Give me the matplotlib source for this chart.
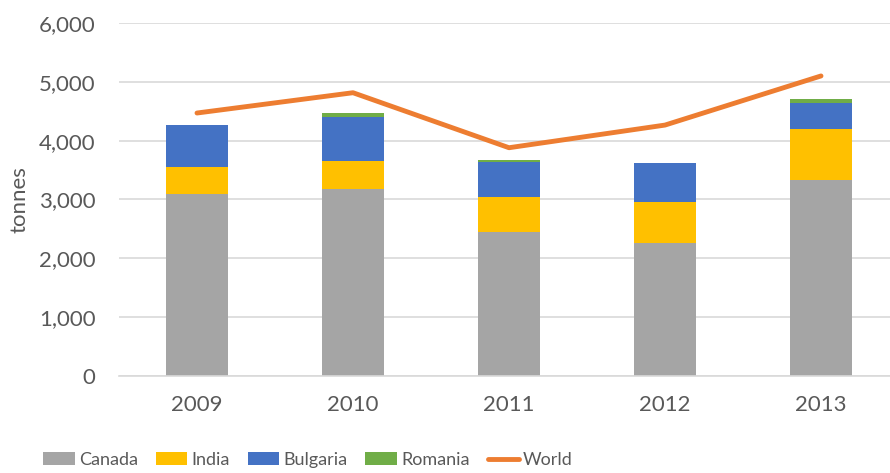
import matplotlib

matplotlib.use("Agg")

import matplotlib.pyplot as plt
import numpy as np
from matplotlib.ticker import FuncFormatter

years = ["2009", "2010", "2011", "2012", "2013"]
canada = [3090, 3170, 2450, 2260, 3325]
india = [460, 480, 600, 690, 875]
bulgaria = [710, 760, 580, 670, 445]
romania = [0, 55, 45, 0, 65]
world = [4470, 4815, 3880, 4265, 5100]

plt.rcParams["font.family"] = ["Lato", "DejaVu Sans"]
text_color = "#595959"

fig = plt.figure(figsize=(8.9, 4.73), dpi=100)
ax = fig.add_axes([119 / 890, (473 - 376) / 473, 780 / 890, 353 / 473])

x = np.arange(len(years))
width = 0.4
bottom = np.zeros(len(years))
series = [
    ("Canada", canada, "#a5a5a5"),
    ("India", india, "#ffc000"),
    ("Bulgaria", bulgaria, "#4472c4"),
    ("Romania", romania, "#70ad47"),
]
for name, vals, color in series:
    vals = np.array(vals, dtype=float)
    ax.bar(x, vals, width, bottom=bottom, color=color, label=name, zorder=2)
    bottom += vals

ax.plot(x, world, color="#ed7d31", linewidth=3.5, label="World", zorder=3,
        solid_capstyle="round")

ax.set_xlim(-0.5, 4.5)
ax.set_ylim(0, 6000)
ax.set_yticks(range(0, 6001, 1000))
ax.yaxis.set_major_formatter(FuncFormatter(lambda v, p: f"{int(v):,}"))
ax.set_xticks(x)
ax.set_xticklabels(years)
ax.grid(axis="y", color="#d9d9d9", linewidth=1.2, zorder=0)
for s in ["top", "right", "left"]:
    ax.spines[s].set_visible(False)
ax.spines["bottom"].set_color("#d9d9d9")
ax.spines["bottom"].set_linewidth(1.2)
ax.tick_params(axis="both", length=0, labelsize=16, colors=text_color)
ax.tick_params(axis="x", pad=14)
ax.tick_params(axis="y", pad=17)
fig.text(20 / 890, 1 - 200 / 473, "tonnes", rotation=90, ha="center", va="center",
         fontsize=16, color=text_color)

handles, labels = ax.get_legend_handles_labels()
order = [1, 2, 3, 4, 0]
fig.legend([handles[i] for i in order], [labels[i] for i in order],
           loc="center", bbox_to_anchor=(308 / 890, 1 - 460 / 473), ncol=5, frameon=False,
           fontsize=13, labelcolor=text_color, handlelength=1.75, handleheight=0.72,
           handletextpad=0.22, columnspacing=1.0)

fig.savefig("out.png", dpi=100)
